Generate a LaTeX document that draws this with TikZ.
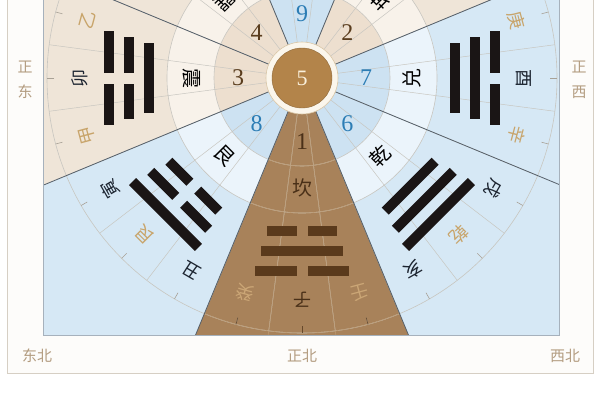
\documentclass[tikz,border=0pt]{standalone}
\usepackage{fontspec}
\setmainfont{Liberation Serif}
\newfontfamily\cjk{Noto Sans CJK SC}
\definecolor{beige}{HTML}{EFE5D8}
\definecolor{beigenum}{HTML}{EDDFCF}
\definecolor{beigename}{HTML}{F8F2EA}
\definecolor{blu}{HTML}{D6E8F5}
\definecolor{blunum}{HTML}{CDE2F2}
\definecolor{bluname}{HTML}{EBF4FB}
\definecolor{brn}{HTML}{A8825A}
\definecolor{brnline}{HTML}{BC9A72}
\definecolor{brnbar}{HTML}{5A3A1C}
\definecolor{brntext}{HTML}{4A3018}
\definecolor{brngold}{HTML}{CBA676}
\definecolor{gold}{HTML}{C8A46A}
\definecolor{navy}{HTML}{1C2430}
\definecolor{corner}{HTML}{B39C80}
\definecolor{frameline}{HTML}{D6CFC4}
\definecolor{framefill}{HTML}{FDFCFA}
\definecolor{rectline}{HTML}{A6B1BC}
\definecolor{mainline}{HTML}{56606A}
\definecolor{subline}{HTML}{C8C6C0}
\definecolor{tickline}{HTML}{A8A196}
\definecolor{numblue}{HTML}{2C7DB5}
\definecolor{numbrown}{HTML}{5A3D1E}
\definecolor{barblack}{HTML}{1A1515}
\definecolor{ringfill}{HTML}{FBF6EC}
\definecolor{ringline}{HTML}{D9C6A6}
\definecolor{hub}{HTML}{B3844A}
\definecolor{hubtext}{HTML}{FAF0DC}
\newcommand\annsec[5]{\fill[#5] (#1:#3) arc[start angle=#1,end angle=#2,radius=#3] -- (#2:#4) arc[start angle=#2,end angle=#1,radius=#4] -- cycle;}
\newcommand\trigbar[4]{%
  \begin{scope}[rotate=#1-90]
    \pgfmathsetmacro\hl{(0.56*#2-15)/2}
    \ifnum#3=1
      \fill[#4] (-\hl,#2-5) rectangle (\hl,#2+5);
    \else
      \fill[#4] (-\hl,#2-5) rectangle (-5.5,#2+5);
      \fill[#4] (5.5,#2-5) rectangle (\hl,#2+5);
    \fi
  \end{scope}}
\newcommand\trigram[5]{\trigbar{#1}{153}{#2}{#5}\trigbar{#1}{173}{#3}{#5}\trigbar{#1}{193}{#4}{#5}}
\tikzset{
  numsty/.style={font=\fontsize{24}{24}\selectfont, inner sep=0pt},
  namesty/.style={font=\cjk\fontsize{20}{20}\selectfont, inner sep=0pt},
  mtsty/.style={font=\cjk\fontsize{18}{18}\selectfont, inner sep=0pt},
  cornersty/.style={font=\cjk\fontsize{15}{15}\selectfont, text=corner, inner sep=0pt},
}
\begin{document}
\begin{tikzpicture}[x=1pt,y=1pt]
\useasboundingbox (0,0) rectangle (600,-400);
\clip (0,0) rectangle (600,-400);
\fill[white] (0,0) rectangle (600,-400);
\draw[frameline, fill=framefill, line width=1pt] (7,10) rectangle (593,-373);
\begin{scope}
  \clip (43,10) rectangle (559,-335);
  \fill[blu] (43,10) rectangle (559,-335);
  \begin{scope}[shift={(302,-78)}]
    % sector wedges
    \foreach \ang in {45,135,180}{
      \fill[beige] (0,0) -- (\ang-22.5:700pt) -- (\ang+22.5:700pt) -- cycle;
      \annsec{\ang-22.5}{\ang+22.5}{36pt}{88pt}{beigenum}
      \annsec{\ang-22.5}{\ang+22.5}{88pt}{135pt}{beigename}
    }
    \foreach \ang in {0,90,225,315}{
      \annsec{\ang-22.5}{\ang+22.5}{36pt}{88pt}{blunum}
      \annsec{\ang-22.5}{\ang+22.5}{88pt}{135pt}{bluname}
    }
    \fill[brn] (0,0) -- (247.5:700pt) -- (292.5:700pt) -- cycle;
    % arcs
    \foreach \r in {88,135,255}{
      \draw[subline, line width=0.6pt] (0,0) circle (\r pt);
      \draw[brnline, line width=0.6pt] (247.5:\r pt) arc[start angle=247.5, end angle=292.5, radius=\r pt];
    }
    % subdivision lines and ticks
    \foreach \k in {0,...,23}{
      \pgfmathsetmacro\ang{7.5+15*\k}
      \draw[subline, line width=0.5pt] (\ang:36pt) -- (\ang:255pt);
      \draw[tickline, line width=0.6pt] (15*\k:248pt) -- (15*\k:255pt);
    }
    \draw[brnline, line width=0.5pt] (262.5:36pt) -- (262.5:700pt);
    \draw[brnline, line width=0.5pt] (277.5:36pt) -- (277.5:700pt);
    \foreach \k in {255,270,285}{
      \draw[brntext!70!brn, line width=0.6pt] (\k:248pt) -- (\k:255pt);
    }
    % main boundaries
    \foreach \k in {0,...,7}{
      \draw[mainline, line width=0.8pt] (22.5+45*\k:36pt) -- (22.5+45*\k:700pt);
    }
    % trigrams
    \foreach \ang/\lo/\mi/\hi/\colr in {90/1/0/1/barblack, 45/0/0/0/barblack, 0/1/1/0/barblack, 315/1/1/1/barblack, 270/0/1/0/brnbar, 225/0/0/1/barblack, 180/1/0/0/barblack, 135/0/1/1/barblack}{
      \trigram{\ang}{\lo}{\mi}{\hi}{\colr}
    }
    % centre
    \fill[ringfill] (0,0) circle (36pt);
    \draw[ringline, line width=0.6pt] (0,0) circle (36pt);
    \fill[hub] (0,0) circle (30pt);
    \draw[hub!80!black, line width=0.4pt] (0,0) circle (30pt);
    \node[numsty, text=hubtext, font=\fontsize{22}{22}\selectfont] (centre) at (0,0) {5};
    % numbers
    \foreach \ang/\n/\nc in {90/9/numblue, 45/2/numbrown, 0/7/numblue, 315/6/numblue, 270/1/brntext, 225/8/numblue, 180/3/numbrown, 135/4/numbrown}{
      \node[numsty, text=\nc] (num\n) at (\ang:64pt) {\n};
    }
    % trigram names
    \foreach \ang/\txt/\nc in {90/离/black, 45/坤/black, 0/兑/black, 315/乾/black, 270/坎/brntext, 225/艮/black, 180/震/black, 135/巽/black}{
      \node[namesty, text=\nc, rotate=\ang+90] (nm\ang) at (\ang:110pt) {\txt};
    }
    % twenty-four mountains
    \foreach \ang/\txt/\nc in {165/乙/gold, 180/卯/navy, 195/甲/gold, 210/寅/navy, 225/艮/gold, 240/丑/navy, 255/癸/brngold, 270/子/brntext, 285/壬/brngold, 300/亥/navy, 315/乾/gold, 330/戌/navy, 345/辛/gold, 0/酉/navy, 15/庚/gold, 30/申/navy, 45/坤/gold, 60/未/navy, 75/丁/gold, 90/午/navy, 105/丙/gold, 120/巳/navy, 135/巽/gold, 150/辰/navy}{
      \node[mtsty, text=\nc, rotate=\ang-90] (mt\ang) at (\ang:222pt) {\txt};
    }
  \end{scope}
\end{scope}
\draw[rectline, line width=0.8pt] (43,10) rectangle (559,-335);
% direction labels
\node[cornersty] (e1) at (25,-67) {正};
\node[cornersty] (e2) at (25,-92) {东};
\node[cornersty] (w1) at (579,-67) {正};
\node[cornersty] (w2) at (579,-92) {西};
\node[cornersty] (ne) at (37,-356) {东北};
\node[cornersty] (n) at (302,-356) {正北};
\node[cornersty] (nw) at (565,-356) {西北};
\end{tikzpicture}
\end{document}
